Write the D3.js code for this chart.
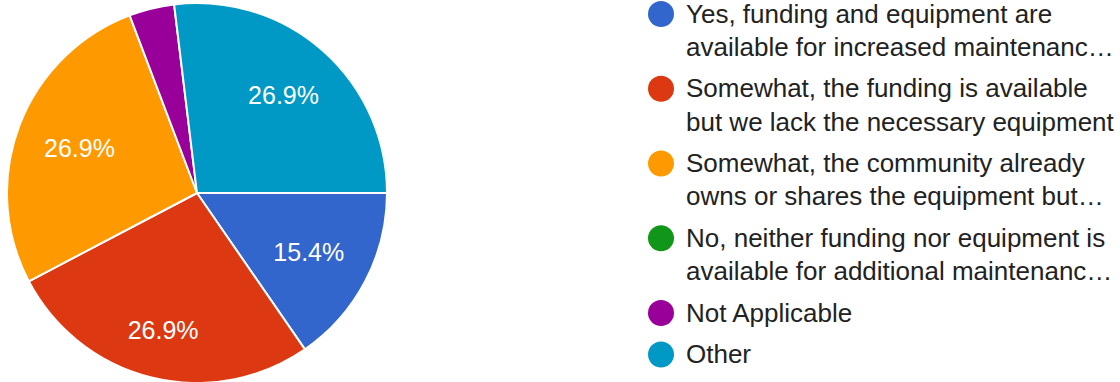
<!DOCTYPE html>
<html>
<head>
<meta charset="utf-8">
<script src="https://cdn.jsdelivr.net/npm/d3@7"></script>
<style>
  html, body { margin: 0; padding: 0; background: #fff; }
  svg { display: block; font-family: Arial, "Liberation Sans", sans-serif; }
</style>
</head>
<body>
<svg id="chart" width="1120" height="382"></svg>
<script>
// Survey answers (response counts) and their legend text, one entry per answer
const categories = [
  ["Yes, funding and equipment are", "available for increased maintenanc…"],
  ["Somewhat, the funding is available", "but we lack the necessary equipment"],
  ["Somewhat, the community already", "owns or shares the equipment but…"],
  ["No, neither funding nor equipment is", "available for additional maintenanc…"],
  ["Not Applicable"],
  ["Other"]
];
const counts = [4, 7, 7, 0, 1, 7];
const colors = ["#3366cc", "#dc3912", "#ff9900", "#109618", "#990099", "#0099c6"];

const svg = d3.select("#chart");
const cx = 197, cy = 193, radius = 190;
const total = d3.sum(counts);

const data = counts.map((v, i) => ({ i, value: v, lines: categories[i] }));

// First slice begins at three o'clock and runs clockwise
const pie = d3.pie()
  .value(d => d.value)
  .sort(null)
  .startAngle(Math.PI / 2)
  .endAngle(Math.PI / 2 + 2 * Math.PI);

const arc = d3.arc().innerRadius(0).outerRadius(radius);

const g = svg.append("g").attr("transform", `translate(${cx},${cy})`);

const arcs = pie(data);

g.selectAll("path.slice")
  .data(arcs.filter(a => a.value > 0))
  .join("path")
  .attr("class", "slice")
  .attr("d", arc)
  .attr("fill", a => colors[a.data.i])
  .attr("stroke", "#fff")
  .attr("stroke-width", 2)
  .attr("stroke-linejoin", "round");

// Percentage labels: pushed out along each slice's bisector until the
// label box's outer corner meets the label radius
const labelRadius = radius * 0.853;
const labelFont = 25;
const boxH = 18;

const labels = g.selectAll("text.pct")
  .data(arcs.filter(a => a.value / total >= 0.05))
  .join("text")
  .attr("class", "pct")
  .attr("fill", "#fff")
  .attr("font-size", labelFont)
  .attr("text-anchor", "middle")
  .text(a => (a.value / total * 100).toFixed(1) + "%");

labels.each(function(a) {
  const w = this.getComputedTextLength();
  const mid = (a.startAngle + a.endAngle) / 2;
  const dx = Math.sin(mid), dy = -Math.cos(mid);
  const b = w * Math.abs(dx) + boxH * Math.abs(dy);
  const c = (w * w + boxH * boxH) / 4 - labelRadius * labelRadius;
  const t = (-b + Math.sqrt(b * b - 4 * c)) / 2;
  d3.select(this)
    .attr("x", t * dx)
    .attr("y", t * dy + boxH / 2);
});

// Legend
const legendX = 661, legendTextX = 686;
const lineH = 33.25, itemGap = 8.25, firstY = 14, dotR = 13;
const legendFont = 26;

let y = firstY;
const rows = data.map(d => {
  const row = { ...d, y };
  y += d.lines.length * lineH + itemGap;
  return row;
});

const legend = svg.append("g").attr("class", "legend");

const item = legend.selectAll("g.item")
  .data(rows)
  .join("g")
  .attr("class", "item")
  .attr("transform", d => `translate(0,${d.y})`);

item.append("circle")
  .attr("cx", legendX)
  .attr("cy", 0)
  .attr("r", dotR)
  .attr("fill", d => colors[d.i]);

item.append("text")
  .attr("x", legendTextX)
  .attr("font-size", legendFont)
  .attr("fill", "#222222")
  .selectAll("tspan")
  .data(d => d.lines)
  .join("tspan")
  .attr("x", legendTextX)
  .attr("y", (l, k) => 8.5 + k * lineH)
  .text(l => l);
</script>
</body>
</html>
